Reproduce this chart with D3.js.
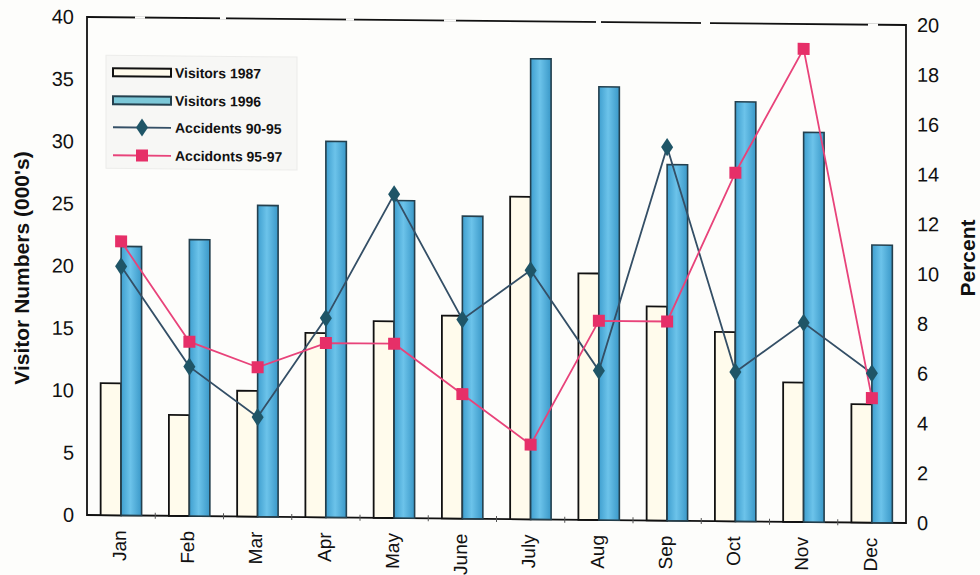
<!DOCTYPE html>
<html>
<head>
<meta charset="utf-8">
<script src="https://cdn.jsdelivr.net/npm/d3@7"></script>
<style>
  html, body { margin: 0; padding: 0; background: #fdfdfb; }
  svg { display: block; font-family: Arial, "Liberation Sans", sans-serif; }
</style>
</head>
<body>
<svg id="chart" width="980" height="575"></svg>
<script>
// Monthly visitor numbers (thousands) and accident rates (percent)
const months = ["Jan", "Feb", "Mar", "Apr", "May", "June", "July", "Aug", "Sep", "Oct", "Nov", "Dec"];
const visitors1987 = [10.6, 8.1, 10.1, 14.8, 15.8, 16.3, 25.9, 19.8, 17.2, 15.2, 11.2, 9.5];
const visitors1996 = [21.6, 22.2, 25.0, 30.2, 25.5, 24.3, 37.0, 34.8, 28.6, 33.7, 31.3, 22.3];
const accidents9095 = [10, 6, 4, 8, 13, 8, 10, 6, 15, 6, 8, 6];
const accidents9597 = [11, 7, 6, 7, 7, 5, 3, 8, 8, 14, 19, 5];
const leftTicks = [0, 5, 10, 15, 20, 25, 30, 35, 40];
const rightTicks = [0, 2, 4, 6, 8, 10, 12, 14, 16, 18, 20];
const legendLabels = ["Visitors 1987", "Visitors 1996", "Accidents 90-95", "Accidonts 95-97"];

const svg = d3.select("#chart");
const L = 87, R = 906, T = 17, B = 515;
const FONT = "Arial, 'Liberation Sans', sans-serif";

const defs = svg.append("defs");
const grad = defs.append("linearGradient").attr("id", "blueBar")
  .attr("x1", "0%").attr("x2", "100%").attr("y1", "0%").attr("y2", "0%");
grad.append("stop").attr("offset", "0%").attr("stop-color", "#3f9fcf");
grad.append("stop").attr("offset", "45%").attr("stop-color", "#6cc3ea");
grad.append("stop").attr("offset", "100%").attr("stop-color", "#3a98c8");

// whole chart is slightly sheared downward to the right
const g = svg.append("g")
  .attr("transform", `translate(${L},0) skewY(0.56) translate(${-L},0)`);

const x = d3.scaleBand().domain(months).range([L, R]);
const pairW = x.bandwidth() * 0.6;
const sub = d3.scaleBand().domain(["v87", "v96"]).range([0, pairW]);
const yL = d3.scaleLinear().domain([0, 40]).range([B, T]);
const yR = d3.scaleLinear().domain([0, 20]).range([B, T]);
const cx = m => x(m) + x.bandwidth() / 2;
const px = m => x(m) + (x.bandwidth() - pairW) / 2;

// plot frame
g.append("rect").attr("x", L).attr("y", T).attr("width", R - L).attr("height", B - T)
  .attr("fill", "none").attr("stroke", "#111").attr("stroke-width", 1.8);
// faint breaks along the top edge
g.append("line").attr("x1", L).attr("x2", R).attr("y1", T).attr("y2", T)
  .attr("stroke", "#fdfdfb").attr("stroke-width", 2.5)
  .attr("stroke-dasharray", "0 48 10 75 6 120 8 90 12 140 5 100 9 110");

// bars
g.append("g").selectAll("rect").data(months).join("rect")
  .attr("x", (m) => px(m) + sub("v87"))
  .attr("y", (m, i) => yL(visitors1987[i]))
  .attr("width", sub.bandwidth())
  .attr("height", (m, i) => B - yL(visitors1987[i]))
  .attr("fill", "#fffbec").attr("stroke", "#111").attr("stroke-width", 1.8);

g.append("g").selectAll("rect").data(months).join("rect")
  .attr("x", (m) => px(m) + sub("v96"))
  .attr("y", (m, i) => yL(visitors1996[i]))
  .attr("width", sub.bandwidth())
  .attr("height", (m, i) => B - yL(visitors1996[i]))
  .attr("fill", "url(#blueBar)").attr("stroke", "#24404e").attr("stroke-width", 1.6);

// accident lines
const line = d3.line().x(d => cx(d.m)).y(d => yR(d.v));
const s1 = months.map((m, i) => ({ m, v: accidents9095[i] }));
const s2 = months.map((m, i) => ({ m, v: accidents9597[i] }));

g.append("path").datum(s1).attr("d", line).attr("fill", "none")
  .attr("stroke", "#344f66").attr("stroke-width", 1.8);
g.append("path").datum(s2).attr("d", line).attr("fill", "none")
  .attr("stroke", "#e8437a").attr("stroke-width", 1.8);

const diamond = d3.symbol().type(d3.symbolDiamond).size(95);
g.append("g").selectAll("path").data(s1).join("path")
  .attr("d", diamond)
  .attr("transform", d => `translate(${cx(d.m)},${yR(d.v)}) scale(1.15,1)`)
  .attr("fill", "#1f5567");
const sq = 12;
g.append("g").selectAll("rect").data(s2).join("rect")
  .attr("x", d => cx(d.m) - sq / 2).attr("y", d => yR(d.v) - sq / 2)
  .attr("width", sq).attr("height", sq).attr("fill", "#e62f68");

// axes
const axL = g.append("g").attr("transform", `translate(${L},0)`)
  .call(d3.axisLeft(yL).tickValues(leftTicks).tickSize(0).tickPadding(13));
const axR = g.append("g").attr("transform", `translate(${R},0)`)
  .call(d3.axisRight(yR).tickValues(rightTicks).tickSize(0).tickPadding(11));
[axL, axR].forEach(a => {
  a.select(".domain").remove();
  a.selectAll("text").attr("font-size", 20).attr("fill", "#111")
    .attr("font-family", FONT);
});

const axB = g.append("g").attr("transform", `translate(0,${B})`)
  .call(d3.axisBottom(x).tickSize(0).tickPadding(0));
axB.select(".domain").remove();
axB.selectAll("text")
  .attr("font-size", 19).attr("fill", "#111")
  .attr("font-family", FONT)
  .attr("text-anchor", "end")
  .attr("transform", "translate(-2,15) rotate(-90)")
  .attr("dx", 0).attr("dy", "0.35em").attr("y", 0).attr("x", 0);

// small separators between month groups
g.append("g").selectAll("line").data(months.slice(1)).join("line")
  .attr("x1", m => x(m)).attr("x2", m => x(m))
  .attr("y1", B - 3).attr("y2", B + 3)
  .attr("stroke", "#555").attr("stroke-width", 1);

// axis titles
svg.append("text").attr("transform", "translate(29,268) rotate(-90)")
  .attr("text-anchor", "middle").attr("font-size", 21).attr("font-weight", "bold")
  .attr("font-family", FONT).attr("fill", "#111").text("Visitor Numbers (000's)");
svg.append("text").attr("transform", "translate(975,258) rotate(-90)")
  .attr("text-anchor", "middle").attr("font-size", 21).attr("font-weight", "bold")
  .attr("font-family", FONT).attr("fill", "#111").text("Percent");

// legend
const lg = g.append("g");
lg.append("rect").attr("x", 106).attr("y", 55).attr("width", 191).attr("height", 113)
  .attr("fill", "#f7f7f5").attr("stroke", "#ececea");
const rowY = [72, 100, 127, 155];
const symX0 = 113, symX1 = 171;
const items = lg.selectAll("g.item").data(legendLabels).join("g").attr("class", "item");
items.append("text").attr("x", 175).attr("y", (d, i) => rowY[i])
  .attr("dy", "0.35em").attr("font-size", 14).attr("font-weight", "bold")
  .attr("font-family", FONT).attr("fill", "#111").text(d => d);
lg.append("rect").attr("x", symX0).attr("y", rowY[0] - 4).attr("width", symX1 - symX0).attr("height", 8)
  .attr("fill", "#fffbec").attr("stroke", "#111").attr("stroke-width", 2);
lg.append("rect").attr("x", symX0).attr("y", rowY[1] - 4).attr("width", symX1 - symX0).attr("height", 8)
  .attr("fill", "#7cc8d8").attr("stroke", "#24404e").attr("stroke-width", 2);
lg.append("line").attr("x1", symX0).attr("x2", symX1).attr("y1", rowY[2]).attr("y2", rowY[2])
  .attr("stroke", "#344f66").attr("stroke-width", 1.8);
lg.append("path").attr("d", diamond)
  .attr("transform", `translate(${(symX0 + symX1) / 2},${rowY[2]}) scale(1.15,1)`).attr("fill", "#1f5567");
lg.append("line").attr("x1", symX0).attr("x2", symX1).attr("y1", rowY[3]).attr("y2", rowY[3])
  .attr("stroke", "#e8437a").attr("stroke-width", 1.8);
lg.append("rect").attr("x", (symX0 + symX1) / 2 - sq / 2).attr("y", rowY[3] - sq / 2)
  .attr("width", sq).attr("height", sq).attr("fill", "#e62f68");
</script>
</body>
</html>
